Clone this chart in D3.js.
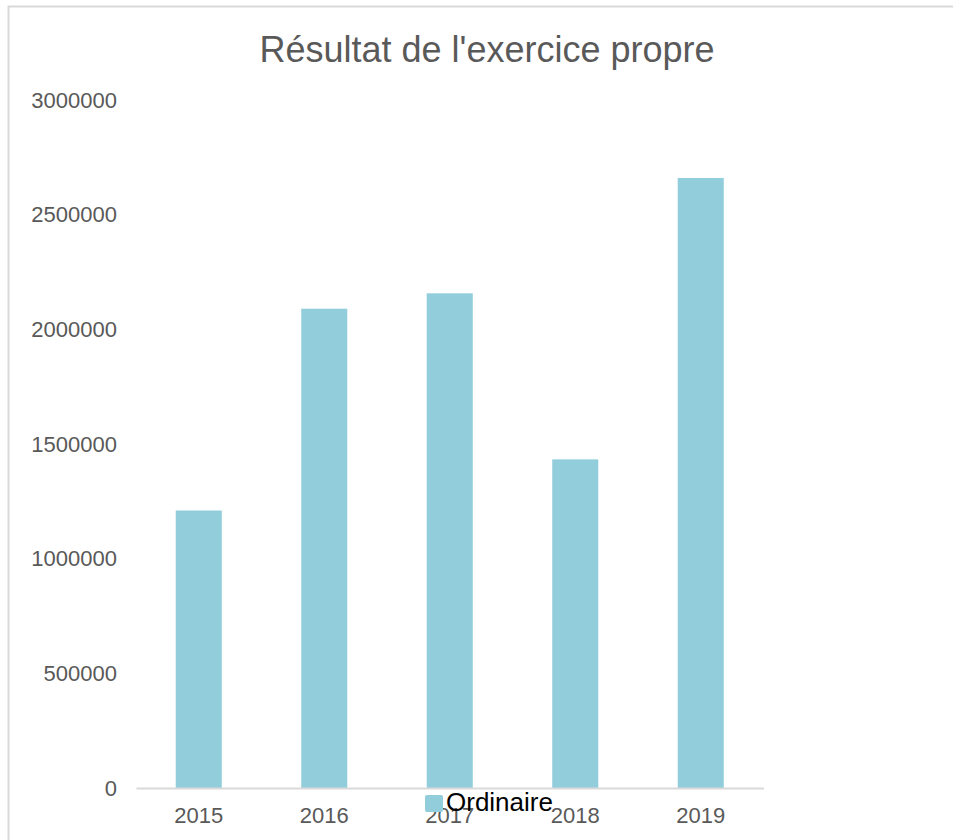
<!DOCTYPE html>
<html>
<head>
<meta charset="utf-8">
<script src="https://cdn.jsdelivr.net/npm/d3@7"></script>
<style>
html,body{margin:0;padding:0;background:#fff;}
svg{display:block;font-family:"Liberation Sans",Arial,sans-serif;}
</style>
</head>
<body>
<svg id="chart" width="953" height="840"></svg>
<script>
const categories = ["2015", "2016", "2017", "2018", "2019"];
const seriesName = "Ordinaire";
const values = [1210000, 2090000, 2157000, 1433000, 2660000];
const yTicks = [0, 500000, 1000000, 1500000, 2000000, 2500000, 3000000];
const title = "Résultat de l'exercice propre";

const svg = d3.select("#chart");
const W = 953, H = 840;
const margin = {left: 136, right: 953 - 763.5, top: 100, bottom: 840 - 788};

// outer frame
svg.append("rect").attr("x", 8.5).attr("y", 6.5).attr("width", W + 10).attr("height", H + 10)
  .attr("fill", "none").attr("stroke", "#d9d9d9").attr("stroke-width", 2);

const x = d3.scaleBand().domain(categories).range([margin.left, W - margin.right]).padding(0);
const y = d3.scaleLinear().domain([0, 3000000]).range([H - margin.bottom, margin.top]);

// title
svg.append("text").attr("x", 487).attr("y", 62).attr("text-anchor", "middle")
  .attr("font-size", 36).attr("fill", "#595959").text(title);

// y axis labels
const yAxis = d3.axisLeft(y).tickValues(yTicks).tickSize(0).tickPadding(19).tickFormat(d3.format("d"));
const gy = svg.append("g").attr("transform", `translate(${margin.left},0)`).call(yAxis);
gy.select(".domain").remove();
gy.selectAll("text").attr("font-size", 22).attr("fill", "#595959")
  .attr("font-family", "Liberation Sans, Arial, sans-serif");

// bars
const barW = x.bandwidth() * 0.367;
svg.append("g").selectAll("rect").data(values).join("rect")
  .attr("x", (d, i) => x(categories[i]) + x.bandwidth() / 2 - barW / 2)
  .attr("y", d => y(d))
  .attr("width", barW)
  .attr("height", d => y(0) - y(d) + 1)
  .attr("fill", "#92cddc");

// x axis
const xAxis = d3.axisBottom(x).tickSize(0).tickPadding(19);
const gx = svg.append("g").attr("transform", `translate(0,${y(0)})`).call(xAxis);
gx.select(".domain").attr("stroke", "#d9d9d9").attr("stroke-width", 2);
gx.selectAll("text").attr("font-size", 22).attr("fill", "#595959")
  .attr("font-family", "Liberation Sans, Arial, sans-serif");

// legend
const lg = svg.append("g");
lg.append("rect").attr("x", 425).attr("y", 795).attr("width", 18).attr("height", 17).attr("rx", 2)
  .attr("fill", "#92cddc");
lg.append("text").attr("x", 446).attr("y", 811).attr("font-size", 26).attr("fill", "#000")
  .text(seriesName);
</script>
</body>
</html>
